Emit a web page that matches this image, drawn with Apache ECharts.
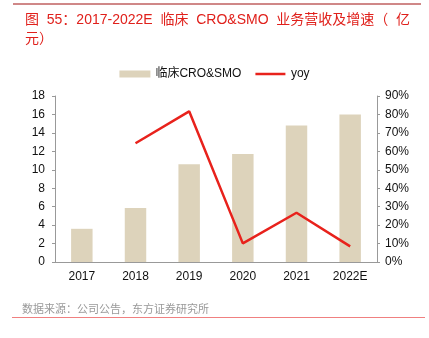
<!DOCTYPE html>
<html><head><meta charset="utf-8">
<script src="https://cdn.jsdelivr.net/npm/echarts@6/dist/echarts.min.js"></script>
<style>html,body{margin:0;padding:0;background:#fff}#c{width:429px;height:338px}</style>
</head><body><div id="c"></div>
<script>
const categories = ['2017','2018','2019','2020','2021','2022E'];
const revenue = [3.6, 5.85, 10.6, 11.7, 14.8, 16.0];
const yoy = [null, 64.4, 81.7, 10.1, 26.7, 8.5];
const leftTicks = [0, 18, 2];
const rightTicks = [0, 90, 10];

const chart = echarts.init(document.getElementById('c'), null, {renderer:'canvas'});
const font = '"Liberation Sans", Arial, "Noto Sans CJK SC", sans-serif';
chart.setOption({
  animation:false,
  textStyle:{fontFamily:font},
  title:{
    text:'图  55：2017-2022E  临床  CRO&SMO  业务营收及增速（  亿\n元）',
    left:20, top:6,
    textStyle:{color:'#e0201b', fontSize:14, fontWeight:'normal', lineHeight:19, fontFamily:font}
  },
  graphic:[
    {type:'line', shape:{x1:13,y1:4,x2:421,y2:4}, style:{stroke:'#a01010', lineWidth:1}},
    {type:'line', shape:{x1:12,y1:317.5,x2:425,y2:317.5}, style:{stroke:'#f08080', lineWidth:1}},
    {type:'text', left:22, top:303, style:{text:'数据来源：公司公告，东方证券研究所', fill:'#999', font:'11px "Noto Sans CJK SC", sans-serif'}}
  ],
  legend:{
    top:63, left:'center', itemGap:14, itemWidth:31, itemHeight:7,
    textStyle:{fontSize:12, color:'#111', fontFamily:font},
    data:[
      {name:'临床CRO&SMO', icon:'rect'},
      {name:'yoy', icon:'path://M0,0L0,0M0,2.25H30V4.75H0ZM0,7L0,7'}
    ]
  },
  grid:{left:55, right:52, top:96, bottom:76},
  xAxis:{
    type:'category', data:categories,
    axisLine:{lineStyle:{color:'#999'}},
    axisTick:{inside:true, length:3, lineStyle:{color:'#999'}},
    axisLabel:{color:'#111', fontSize:12, margin:9}
  },
  yAxis:[
    {type:'value', min:leftTicks[0], max:leftTicks[1], interval:leftTicks[2],
     axisLine:{show:true, lineStyle:{color:'#999'}},
     axisTick:{show:true, length:3, lineStyle:{color:'#999'}},
     splitLine:{show:false},
     axisLabel:{color:'#111', fontSize:12, margin:10}},
    {type:'value', min:rightTicks[0], max:rightTicks[1], interval:rightTicks[2],
     axisLine:{show:true, lineStyle:{color:'#999'}},
     axisTick:{show:true, length:3, lineStyle:{color:'#999'}},
     splitLine:{show:false},
     axisLabel:{color:'#111', fontSize:12, margin:8, formatter:'{value}%'}}
  ],
  series:[
    {name:'临床CRO&SMO', type:'bar', data:revenue, barWidth:'40%', itemStyle:{color:'#ddd3bb'}},
    {name:'yoy', type:'line', yAxisIndex:1, data:yoy, symbol:'none', lineStyle:{color:'#e8221c', width:2.5}, itemStyle:{color:'#e8221c'}}
  ]
});
</script></body></html>
